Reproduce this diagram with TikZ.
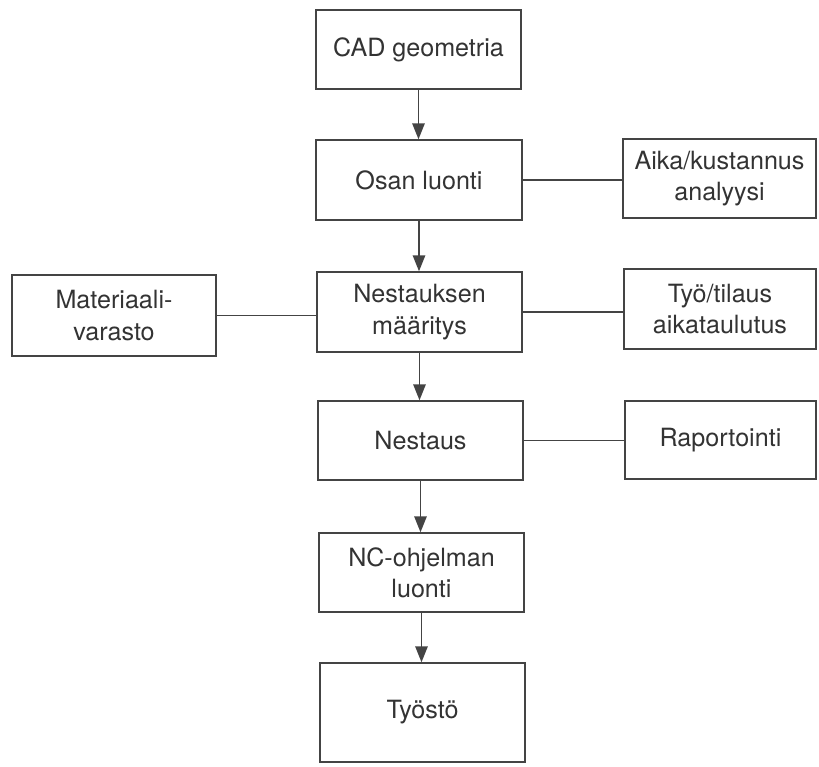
\documentclass[tikz,border=0pt]{standalone}
\usepackage{fontspec}
\setmainfont{TeX Gyre Heros}
\usetikzlibrary{arrows.meta}
\definecolor{inkc}{HTML}{333333}
\definecolor{linec}{HTML}{444444}
\begin{document}
\begin{tikzpicture}[x=0.02cm,y=-0.02cm,
  box/.style={draw=linec,line width=0.85pt,rectangle,inner sep=0pt,align=center,
    text=inkc,font=\fontsize{14.3}{17.8}\selectfont},
  flow/.style={draw=linec,line width=0.85pt,-{Triangle[width=0.25cm,length=0.32cm]}},
  link/.style={draw=linec,line width=0.85pt}]
\useasboundingbox[fill=white] (0,0) rectangle (819,767);
\node[box,minimum width=4.10cm,minimum height=1.58cm] (cad) at (418.5,49.5) {CAD geometria};
\node[box,minimum width=4.12cm,minimum height=1.60cm] (osan) at (419,180) {Osan luonti};
\node[box,minimum width=3.86cm,minimum height=1.58cm] (aika) at (719.5,178.5) {Aika/kustannus\\analyysi};
\node[box,minimum width=4.08cm,minimum height=1.62cm] (mat) at (114,315.5) {Materiaali-\\varasto};
\node[box,minimum width=4.10cm,minimum height=1.60cm] (nm) at (419.5,312) {Nestauksen\\määritys};
\node[box,minimum width=3.84cm,minimum height=1.60cm] (tyo) at (720,309) {Työ/tilaus\\aikataulutus};
\node[box,minimum width=4.10cm,minimum height=1.58cm] (nes) at (420.5,440.5) {Nestaus};
\node[box,minimum width=3.82cm,minimum height=1.56cm] (rap) at (720.5,440) {Raportointi};
\node[box,minimum width=4.10cm,minimum height=1.58cm] (nc) at (421.5,572.5) {NC-ohjelman\\luonti};
\node[box,minimum width=4.10cm,minimum height=1.98cm] (tst) at (422.5,712.5) {Työstö};
\draw[flow] (cad.south) -- (cad.south |- osan.north);
\draw[flow] (osan.south) -- (osan.south |- nm.north);
\draw[flow] (nm.south) -- (nm.south |- nes.north);
\draw[flow] (nes.south) -- (nes.south |- nc.north);
\draw[flow] (nc.south) -- (nc.south |- tst.north);
\draw[link] (osan.east) -- (aika.west |- osan.east);
\draw[link] (mat.east) -- (nm.west |- mat.east);
\draw[link] (nm.east) -- (tyo.west |- nm.east);
\draw[link] (nes.east) -- (rap.west |- nes.east);
\end{tikzpicture}
\end{document}
